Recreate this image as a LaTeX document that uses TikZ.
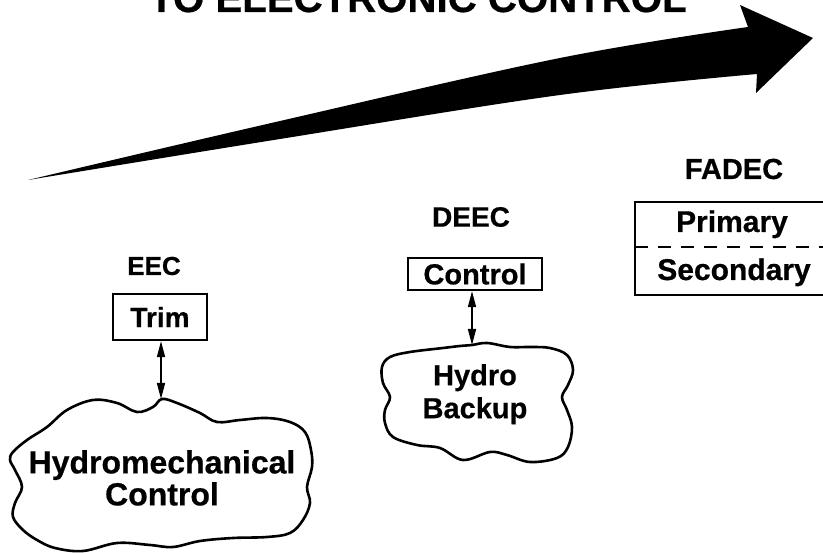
\documentclass[tikz,border=0pt]{standalone}
\usepackage{fontspec}
\setmainfont{Liberation Sans}[BoldFeatures={FakeBold=0.6}]
\usetikzlibrary{arrows.meta}
\begin{document}
\begin{tikzpicture}[x=1pt,y=-1pt,
  lbl/.style={font=\bfseries\fontsize{#1}{#1}\selectfont, inner sep=0pt},
  boxnode/.style={draw, line width=2.3pt, inner sep=0pt},
  cloudline/.style={draw, line width=2.6pt, line join=round},
  link/.style={line width=1.6pt, {Triangle[length=16pt,width=8pt]}-{Triangle[length=16pt,width=8pt]}},
  sep/.style={line width=2pt, dash pattern=on 13pt off 10pt}]
\useasboundingbox (0,0) rectangle (823,553);

% title (cut by the top edge, as in the reference)
\node[lbl=40.2, anchor=base west] (title) at (149,12) {TO ELECTRONIC CONTROL};

% trend arrow
\fill plot[smooth, tension=0.6] coordinates {(28,180) (280,121) (560,58) (748,27)}
  -- (740,5) -- (813,38) -- (756,93) -- (757,74)
  -- plot[smooth, tension=0.6] coordinates {(757,74) (560,95) (280,139) (28,180)} -- cycle;

% FADEC
\node[lbl=29] (fadec) at (734,169) {FADEC};
\draw[line width=2.3pt] (835,202) -- (635,202) -- (635,295) -- (835,295);
\draw[sep] (635,247) -- (835,247);
\node[lbl=30, anchor=base] (primary) at (732,232) {Primary};
\node[lbl=30, anchor=base] (secondary) at (734,280) {Secondary};

% DEEC
\node[lbl=28] (deec) at (471,217) {DEEC};
\node[boxnode, lbl=29, draw, minimum width=134pt, minimum height=32pt] (ctrl) at (475,274) {Control};
\draw[cloudline] plot[smooth cycle, tension=0.6] coordinates {
  (472,345) (487,343) (510,347) (530,347) (550,348) (567,355) (573,370) (568,385)
  (562,397) (567,410) (572,427) (568,447) (557,458) (530,462) (507,455) (490,452)
  (463,460) (440,448) (417,445) (393,437) (385,423) (385,410) (390,397) (383,383)
  (382,367) (390,357) (410,352) (443,348) (460,346)};
\coordinate (hbtop) at (472,345);
\node[lbl=29, align=center, anchor=north, font=\bfseries\fontsize{29}{33}\selectfont] (hydro) at (475,364) {Hydro\\Backup};
\draw[link] (ctrl.south -| hbtop) -- (hbtop);

% EEC
\node[lbl=26] (eec) at (154,266) {EEC};
\node[boxnode, lbl=28, draw, minimum width=94pt, minimum height=46pt] (trim) at (160,317) {Trim};
\draw[cloudline] plot[smooth cycle, tension=0.6] coordinates {
  (162,399) (177,403) (200,413) (217,422) (240,420) (267,418) (290,422) (305,432)
  (311,450) (312,467) (307,487) (310,503) (303,520) (290,533) (267,537) (233,538)
  (200,541) (173,547) (150,545) (117,543) (83,551) (55,548) (37,540) (23,530)
  (13,517) (15,503) (22,487) (15,470) (10,460) (13,452) (27,440) (47,427)
  (67,410) (93,400) (117,403) (137,412) (153,407)};
\coordinate (hmtop) at (161,399);
\node[lbl=32, align=center, anchor=north, font=\bfseries\fontsize{32}{32}\selectfont] (hmc) at (162,450) {Hydromechanical\\Control};
\draw[link] (trim.south -| hmtop) -- (hmtop);
\end{tikzpicture}
\end{document}
